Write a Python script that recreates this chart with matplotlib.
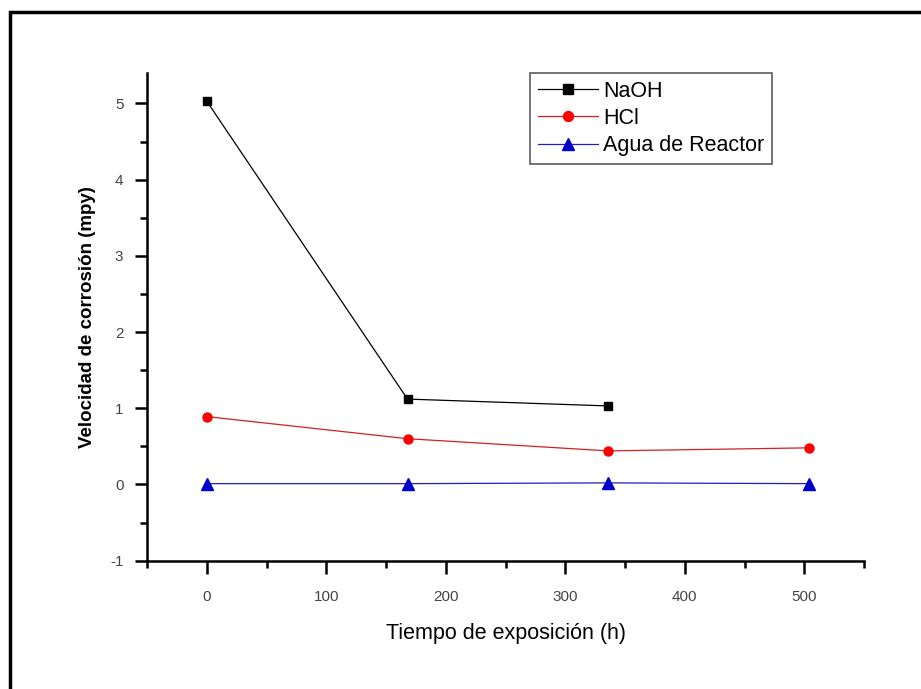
import matplotlib
matplotlib.use("Agg")
import matplotlib.pyplot as plt
from matplotlib.patches import Rectangle
from matplotlib.ticker import MultipleLocator

# Data
tiempo_naoh = [0, 168, 336]
naoh = [5.03, 1.12, 1.03]
tiempo = [0, 168, 336, 504]
hcl = [0.89, 0.60, 0.44, 0.48]
agua = [0.01, 0.01, 0.02, 0.01]

labels = ["NaOH", "HCl", "Agua de Reactor"]
xlabel = "Tiempo de exposición (h)"
ylabel = "Velocidad de corrosión (mpy)"

plt.rcParams['font.family'] = ['Liberation Sans', 'DejaVu Sans']
plt.rcParams['axes.unicode_minus'] = False

fig = plt.figure(figsize=(9.21, 6.89), dpi=100)
# figure frame (left and top visible)
fig.patches.append(Rectangle((10/921, -0.1), 1.2, 1 - 12/689 + 0.1, transform=fig.transFigure,
                             fill=False, edgecolor='black', linewidth=2.5, zorder=10))

ax = fig.add_axes([147/921, 1 - 560.6/689, (864 - 147)/921, (560.6 - 73)/689])

ax.plot(tiempo_naoh, naoh, color='black', lw=0.9, marker='s', ms=6, mfc='black', mec='black', label=labels[0])
ax.plot(tiempo, hcl, color='#d42020', lw=0.9, marker='o', ms=6.5, mfc='red', mec='red', label=labels[1])
ax.plot(tiempo, agua, color='#2020c0', lw=0.9, marker='^', ms=8, mfc='#0000cc', mec='#0000cc', label=labels[2])

ax.set_xlim(-50, 550)
ax.set_ylim(-1, 5.4)
ax.xaxis.set_major_locator(MultipleLocator(100))
ax.xaxis.set_minor_locator(MultipleLocator(50))
ax.yaxis.set_major_locator(MultipleLocator(1))
ax.yaxis.set_minor_locator(MultipleLocator(0.5))

for s in ['top', 'right']:
    ax.spines[s].set_visible(False)
for s in ['left', 'bottom']:
    ax.spines[s].set_linewidth(1.8)

ax.tick_params(which='major', direction='out', length=9, width=1.8, labelsize=11, labelcolor='#444444')
ax.tick_params(axis='x', which='major', pad=12)
ax.tick_params(axis='y', which='major', pad=8)
ax.tick_params(which='minor', direction='out', length=5, width=1.8)

ax.set_xlabel(xlabel, fontsize=15.5, labelpad=14)
ax.set_ylabel(ylabel, fontsize=13.5, fontweight='bold', labelpad=10)

leg = ax.legend(loc='upper left', bbox_to_anchor=((530 - 147)/717, 1.0), fontsize=15.5,
                frameon=True, fancybox=False, edgecolor='#333333', handlelength=2.8,
                handletextpad=0.25, borderpad=0.35, labelspacing=0.3, borderaxespad=0,
                markerscale=1.1)
leg.get_frame().set_linewidth(1.2)

fig.savefig("out.png", dpi=100)
